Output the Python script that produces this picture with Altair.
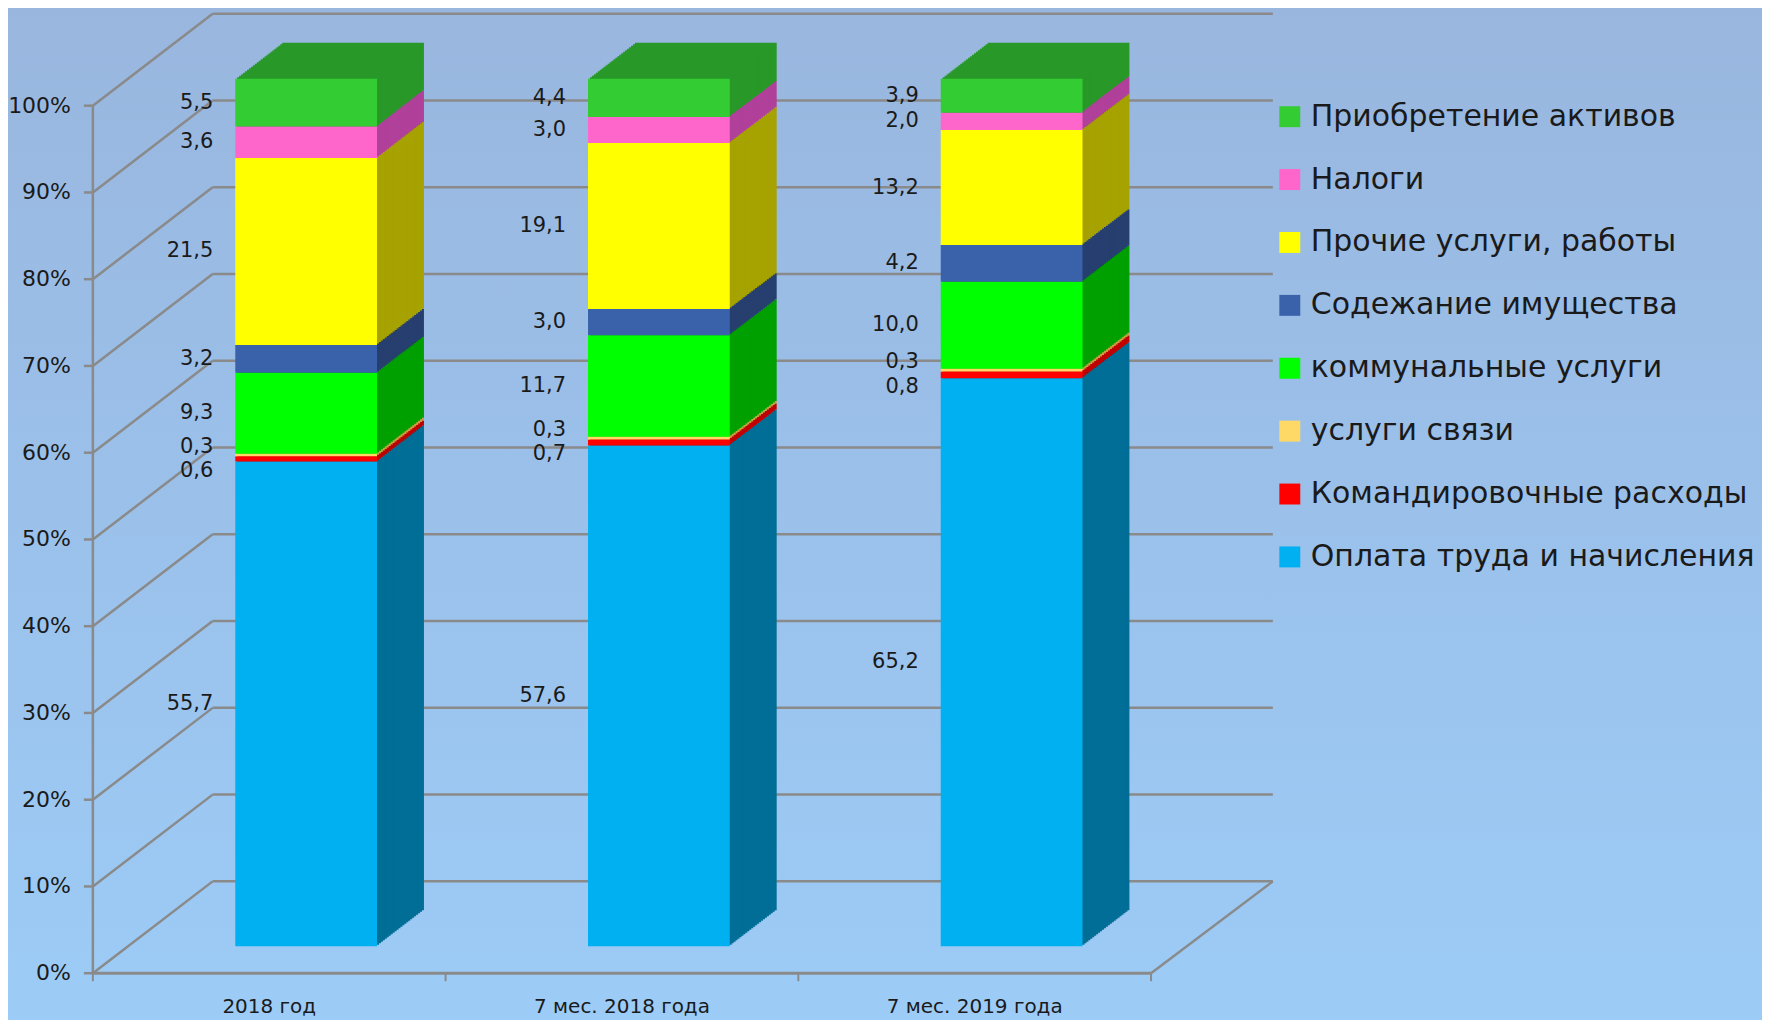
import altair as alt
import pandas as pd

# ---------------- data ----------------
categories = ["2018 год", "7 мес. 2018 года", "7 мес. 2019 года"]
series = [
    "Оплата труда и начисления",
    "Командировочные расходы",
    "услуги связи",
    "коммунальные услуги",
    "Содежание имущества",
    "Прочие услуги, работы",
    "Налоги",
    "Приобретение активов",
]
pay = [55.7, 57.6, 65.2]
travel = [0.6, 0.7, 0.8]
telecom = [0.3, 0.3, 0.3]
utilities = [9.3, 11.7, 10.0]
maintenance = [3.2, 3.0, 4.2]
other_services = [21.5, 19.1, 13.2]
taxes = [3.6, 3.0, 2.0]
assets = [5.5, 4.4, 3.9]

tick_values = [0, 10, 20, 30, 40, 50, 60, 70, 80, 90, 100]
tick_labels = ["0%", "10%", "20%", "30%", "40%", "50%", "60%", "70%", "80%", "90%", "100%"]

# ---------------- styles ----------------
front_colors = ["#00B0F0", "#FF0000", "#FFD966", "#00FF00", "#3A62AA", "#FFFF00", "#FF66CC", "#33CC33"]
side_colors = ["#006E96", "#C00000", "#C8A040", "#00A000", "#263F6F", "#A6A200", "#B0409A", "#289828"]
GRID = "#8A8A8A"
TXT = "#1A1A1A"
FONT = "DejaVu Sans"

values_by_series = [pay, travel, telecom, utilities, maintenance, other_services, taxes, assets]
rows = []
for i, (s, vals) in enumerate(zip(series, values_by_series)):
    for c, v in zip(categories, vals):
        rows.append({"category": c, "series": s, "value": v, "idx": i})
df = pd.DataFrame(rows)
ticks_df = pd.DataFrame({"t": tick_values, "label": tick_labels})
cat_df = pd.DataFrame({"category": categories})

PLOT_W, PLOT_H = 1182, 962
BAND_END = 1060          # front floor edge length
DEPTH_X, DEPTH_Y = 120, 92   # wall depth
BAR_W = 142
BAR_DX, BAR_DY = 37, -27     # bar placement inside the depth
SIDE_X, SIDE_Y = 47, -36     # bar depth

xscale = alt.Scale(domain=categories, range=[0, BAND_END], paddingInner=0, paddingOuter=0)
yscale = alt.Scale(domain=[0, 110.7], nice=False, zero=True)

base = (
    alt.Chart(df)
    .transform_joinaggregate(total="sum(value)", groupby=["category"])
    .transform_calculate(pct="100*datum.value/datum.total")
    .transform_window(cum="sum(pct)", groupby=["category"], sort=[alt.SortField("idx")], frame=[None, 0])
    .transform_calculate(start="datum.cum - datum.pct", mid="datum.cum - datum.pct/2")
)
X = alt.X("category:N", scale=xscale, axis=None, sort=categories)

# background gradient
bg = alt.Chart(pd.DataFrame({"a": [0]})).mark_rect(
    color=alt.LinearGradient(
        gradient="linear",
        stops=[alt.GradientStop(color="#99B6DE", offset=0), alt.GradientStop(color="#9CCCF7", offset=1)],
        x1=0, x2=0, y1=0, y2=1,
    )
).encode(x=alt.value(-90), x2=alt.value(PLOT_W + 500), y=alt.value(-10), y2=alt.value(PLOT_H + 60))

tk = alt.Chart(ticks_df)
Yt = alt.Y("t:Q", scale=yscale, axis=None)
back_lines = tk.mark_rule(color=GRID, strokeWidth=2.5, yOffset=-DEPTH_Y).encode(
    y=Yt, x=alt.value(DEPTH_X), x2=alt.value(PLOT_W))
diag_lines = tk.mark_rule(color=GRID, strokeWidth=2.5, y2Offset=-DEPTH_Y).encode(
    y=Yt, y2=alt.Y2("t:Q"), x=alt.value(0), x2=alt.value(DEPTH_X))
floor_right = tk.transform_filter("datum.t == 0").mark_rule(color=GRID, strokeWidth=2.5, y2Offset=-DEPTH_Y).encode(
    y=Yt, y2=alt.Y2("t:Q"), x=alt.value(BAND_END), x2=alt.value(PLOT_W))
floor_front = tk.transform_filter("datum.t == 0").mark_rule(color=GRID, strokeWidth=3).encode(
    y=Yt, x=alt.value(0), x2=alt.value(BAND_END))
axis_line = tk.transform_filter("datum.t == 0").mark_rule(color=GRID, strokeWidth=2.5).encode(
    y=Yt, y2=alt.Y2(datum=100), x=alt.value(0))
y_ticks = tk.mark_rule(color=GRID, strokeWidth=2.5).encode(y=Yt, x=alt.value(-9), x2=alt.value(0))
y_labels = tk.mark_text(align="right", baseline="middle", font=FONT, fontSize=22, color=TXT, dx=-22).encode(
    y=Yt, x=alt.value(0), text="label:N")

x_ticks = alt.Chart(cat_df).mark_rule(color=GRID, strokeWidth=2).encode(
    x=alt.X("category:N", scale=xscale, axis=None, sort=categories, bandPosition=0),
    y=alt.value(PLOT_H), y2=alt.value(PLOT_H + 8))
x_tick_end = tk.transform_filter("datum.t == 0").mark_rule(color=GRID, strokeWidth=2).encode(
    x=alt.value(BAND_END), y=alt.value(PLOT_H), y2=alt.value(PLOT_H + 8))
x_labels = alt.Chart(cat_df).mark_text(baseline="middle", font=FONT, fontSize=20, color=TXT).encode(
    x=alt.X("category:N", scale=xscale, axis=None, sort=categories), y=alt.value(PLOT_H + 34), text="category:N")

# 3D side/top of the bars: stepped extrusion
N = 24
side_layers = []
for k in range(N, 0, -1):
    f = k / N
    side_layers.append(
        base.mark_bar(
            width=BAR_W,
            xOffset=BAR_DX + SIDE_X * f,
            yOffset=BAR_DY + SIDE_Y * f,
            y2Offset=BAR_DY + SIDE_Y * f,
        ).encode(
            x=X,
            y=alt.Y("start:Q", scale=yscale, axis=None),
            y2="cum:Q",
            fill=alt.Fill("series:N", scale=alt.Scale(domain=series, range=side_colors), legend=None),
        )
    )

front = base.mark_bar(width=BAR_W, xOffset=BAR_DX, yOffset=BAR_DY, y2Offset=BAR_DY).encode(
    x=X,
    y=alt.Y("start:Q", scale=yscale, axis=None),
    y2="cum:Q",
    color=alt.Color(
        "series:N",
        scale=alt.Scale(domain=series[::-1], range=front_colors[::-1]),
        legend=alt.Legend(
            title=None, orient="none", legendX=1184, legendY=89,
            symbolType="square", symbolSize=440, symbolStrokeWidth=0,
            labelFont=FONT, labelFontSize=30, labelColor=TXT, labelLimit=700,
            labelOffset=6, rowPadding=33, padding=0,
        ),
    ),
)


def value_labels(filter_expr, dy):
    return base.transform_filter(filter_expr).mark_text(
        align="right", baseline="middle", font=FONT, fontSize=21, color=TXT, dx=BAR_DX - BAR_W / 2 - 22, dy=BAR_DY + dy
    ).encode(
        x=X,
        y=alt.Y("mid:Q", scale=yscale, axis=None),
        text=alt.Text("value:Q", format=".1f"),
    )


lab_main = value_labels("datum.idx != 1 && datum.idx != 2", 0)
lab_travel = value_labels("datum.idx == 1", 12)
lab_tel = value_labels("datum.idx == 2", -8)

chart = alt.layer(
    bg, back_lines, diag_lines, floor_right, floor_front, axis_line, y_ticks, y_labels,
    x_ticks, x_tick_end, x_labels,
    *side_layers, front, lab_main, lab_travel, lab_tel,
).properties(
    width=PLOT_W, height=PLOT_H,
    autosize=alt.AutoSizeParams(type="none"),
    padding={"left": 85, "top": 4, "right": 490, "bottom": 46},
    background="#9BC0EA",
).configure_view(stroke=None).configure(
    locale={"number": {"decimal": ",", "thousands": " ", "grouping": [3], "currency": ["", " ₽"]}}
)

chart.save("out.html", embed_options={"renderer": "svg", "actions": False})
